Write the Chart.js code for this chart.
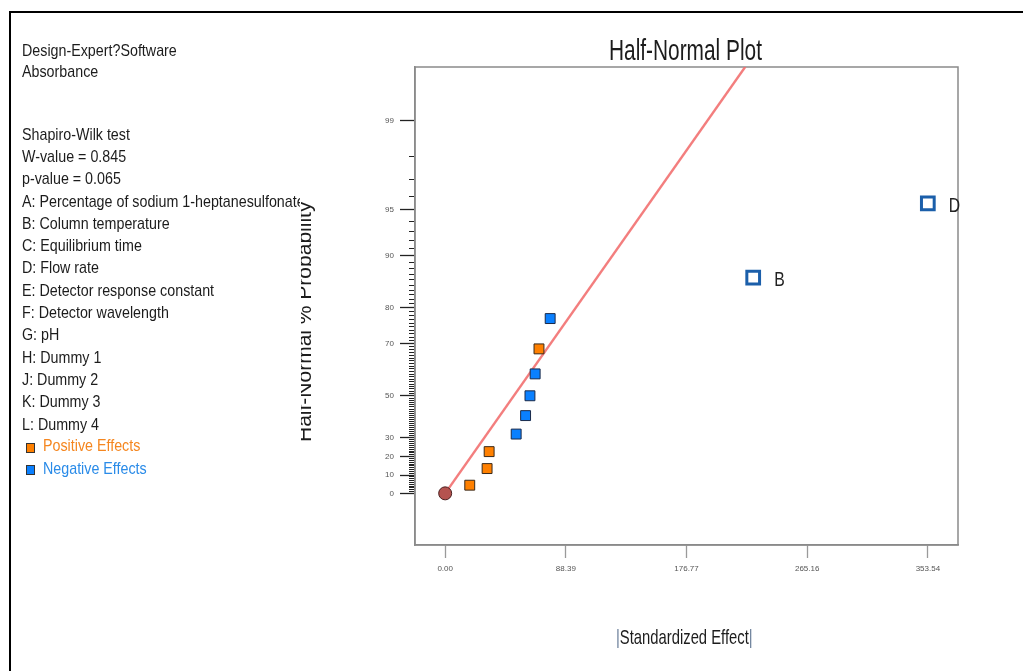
<!DOCTYPE html>
<html>
<head>
<meta charset="utf-8">
<script src="https://cdn.jsdelivr.net/npm/chart.js@4.4.1/dist/chart.umd.min.js"></script>
<style>
html,body{margin:0;padding:0;background:#fff;overflow:hidden;width:1023px;height:671px;}
#frame{position:absolute;left:9px;top:11px;width:1100px;height:700px;border-top:2px solid #000;border-left:2px solid #000;}
#chart{position:absolute;left:0;top:0;}
.txt{font-family:"Liberation Sans",Arial,sans-serif;color:#1c1c1c;white-space:nowrap;position:absolute;}
#leftClip{position:absolute;left:0;top:0;width:300px;height:671px;overflow:hidden;}
#info1{left:22px;top:39.6px;font-size:17px;line-height:21px;transform:scaleX(0.84);transform-origin:0 0;}
#info2{left:22px;top:123.7px;font-size:17px;line-height:22.3px;transform:scaleX(0.84);transform-origin:0 0;}
#legPos{left:42.7px;top:434.7px;font-size:17px;line-height:22.3px;transform:scaleX(0.84);transform-origin:0 0;color:#f5861f;}
#legNeg{left:42.7px;top:458px;font-size:17px;line-height:22.3px;transform:scaleX(0.84);transform-origin:0 0;color:#2a8be8;}
.sw{position:absolute;width:7px;height:8px;border:1px solid #333;}
#ytClip{position:absolute;left:301px;top:0;width:60px;height:671px;overflow:hidden;}
#ytitle{left:-8.3px;top:442px;font-size:21px;line-height:21px;transform:rotate(-90deg);transform-origin:0 0;}
#title{left:609px;top:34.6px;font-size:30px;line-height:30px;transform:scaleX(0.695);transform-origin:0 0;}
#xtitle{left:616px;top:626.2px;font-size:21px;line-height:21px;transform:scaleX(0.705);transform-origin:0 0;}
.bar{color:#6b7f9a;}
</style>
</head>
<body>
<canvas id="chart" width="1023" height="671"></canvas>
<div id="frame"></div>
<div id="leftClip">
  <div id="info1" class="txt">Design-Expert?Software<br>Absorbance</div>
  <div id="info2" class="txt">Shapiro-Wilk test<br>W-value = 0.845<br>p-value = 0.065<br>A: Percentage of sodium 1-heptanesulfonate<br>B: Column temperature<br>C: Equilibrium time<br>D: Flow rate<br>E: Detector response constant<br>F: Detector wavelength<br>G: pH<br>H: Dummy 1<br>J: Dummy 2<br>K: Dummy 3<br>L: Dummy 4</div>
  <div class="sw" style="left:26px;top:443px;background:#ff8000;"></div>
  <div id="legPos" class="txt">Positive Effects</div>
  <div class="sw" style="left:26px;top:465px;background:#0a80ff;"></div>
  <div id="legNeg" class="txt">Negative Effects</div>
</div>
<div id="ytClip"><div id="ytitle" class="txt">Half-Normal % Probability</div></div>
<div id="title" class="txt">Half-Normal Plot</div>
<div id="xtitle" class="txt"><span class="bar">|</span>Standardized Effect<span class="bar">|</span></div>
<script>
// ---- data ----
const positiveEffectX = [18.0, 30.7, 32.2, 68.7];
const positiveEffectP = [4.5, 13.6, 22.7, 68.2];
const negativeEffectX = [52.0, 58.9, 62.1, 65.9, 76.9];
const negativeEffectP = [31.8, 40.9, 50.0, 59.1, 77.3];
const namedEffectLabels = ['B', 'D'];
const namedEffectX = [225.6, 353.5];
const namedEffectP = [86.4, 95.5];
const originX = [0];
const originP = [0];
const fitLineX = [0, 219.8];
const fitLineP = [0, 99.68];
const xTickValues = [0, 88.39, 176.77, 265.16, 353.54];
const xTickLabels = ['0.00', '88.39', '176.77', '265.16', '353.54'];
const xRange = [-22.1, 375.6];
const yMajorTicks = [0, 10, 20, 30, 50, 70, 80, 90, 95, 99];
const yAllTicks = [];
for (let p = 0; p <= 99; p++) yAllTicks.push(p);
const yRangeZ = [-0.357, 2.947];

// half-normal probability scale transform (percent -> normal quantile)
function normInv(p){
  const a=[-3.969683028665376e+01,2.209460984245205e+02,-2.759285104469687e+02,1.383577518672690e+02,-3.066479806614716e+01,2.506628277459239e+00];
  const b=[-5.447609879822406e+01,1.615858368580409e+02,-1.556989798598866e+02,6.680131188771972e+01,-1.328068155288572e+01];
  const c=[-7.784894002430293e-03,-3.223964580411365e-01,-2.400758277161838e+00,-2.549732539343734e+00,4.374664141464968e+00,2.938163982698783e+00];
  const d=[7.784695709041462e-03,3.224671290700398e-01,2.445134137142996e+00,3.754408661907416e+00];
  const pl=0.02425, ph=1-pl; let q,r;
  if(p<pl){q=Math.sqrt(-2*Math.log(p));return (((((c[0]*q+c[1])*q+c[2])*q+c[3])*q+c[4])*q+c[5])/((((d[0]*q+d[1])*q+d[2])*q+d[3])*q+1);}
  if(p<=ph){q=p-0.5;r=q*q;return (((((a[0]*r+a[1])*r+a[2])*r+a[3])*r+a[4])*r+a[5])*q/(((((b[0]*r+b[1])*r+b[2])*r+b[3])*r+b[4])*r+1);}
  q=Math.sqrt(-2*Math.log(1-p));return -(((((c[0]*q+c[1])*q+c[2])*q+c[3])*q+c[4])*q+c[5])/((((d[0]*q+d[1])*q+d[2])*q+d[3])*q+1);
}
const hnZ = pct => pct <= 0 ? 0 : normInv(0.5 + pct / 200);
const pts = (xs, ps) => xs.map((x, i) => ({x: x, y: hnZ(ps[i])}));

const baseFont = '"Liberation Sans",Arial,sans-serif';

const framePlugin = {
  id: 'frame',
  beforeDatasetsDraw(chart) {
    const {ctx, chartArea: a} = chart;
    ctx.save();
    ctx.strokeStyle = '#8a8a8a';
    ctx.lineWidth = 1.5;
    ctx.strokeRect(a.left, a.top, a.right - a.left, a.bottom - a.top);
    ctx.restore();
  }
};
const labelPlugin = {
  id: 'pointLabels',
  afterDatasetsDraw(chart) {
    const ctx = chart.ctx;
    const meta = chart.getDatasetMeta(3);
    ctx.save();
    ctx.font = '21px ' + baseFont;
    ctx.fillStyle = '#222';
    ctx.textAlign = 'left';
    ctx.textBaseline = 'middle';
    meta.data.forEach((el, i) => {
      ctx.save();
      ctx.translate(el.x + 21, el.y + 3);
      ctx.scale(0.75, 1);
      ctx.fillText(namedEffectLabels[i], 0, 0);
      ctx.restore();
    });
    ctx.restore();
  }
};

new Chart(document.getElementById('chart'), {
  type: 'scatter',
  data: {
    datasets: [
      {label: 'origin', data: pts(originX, originP), pointStyle: 'circle', pointRadius: 6.5,
       backgroundColor: '#b5534f', borderColor: '#4a2020', borderWidth: 1},
      {label: 'Positive Effects', data: pts(positiveEffectX, positiveEffectP), pointStyle: 'rect', pointRadius: 7,
       backgroundColor: '#ff8000', borderColor: '#3a2a1a', borderWidth: 1},
      {label: 'Negative Effects', data: pts(negativeEffectX, negativeEffectP), pointStyle: 'rect', pointRadius: 7,
       backgroundColor: '#0a80ff', borderColor: '#1a2a4a', borderWidth: 1},
      {label: 'Significant', data: pts(namedEffectX, namedEffectP), pointStyle: 'rect', pointRadius: 9,
       backgroundColor: '#ffffff', borderColor: '#1b5faa', borderWidth: 3},
      {label: 'fit', data: pts(fitLineX, fitLineP), showLine: true, pointRadius: 0,
       borderColor: 'rgba(242,112,112,0.9)', borderWidth: 2.5, order: 10, clip: 0}
    ]
  },
  options: {
    responsive: false,
    devicePixelRatio: 1,
    animation: false,
    events: [],
    layout: {padding: {left: 355, right: 65, top: 67, bottom: 0}},
    plugins: {legend: {display: false}, tooltip: {enabled: false}, title: {display: false}},
    scales: {
      x: {
        type: 'linear', position: 'bottom', min: xRange[0], max: xRange[1],
        afterBuildTicks: s => { s.ticks = xTickValues.map(v => ({value: v})); },
        afterFit: s => { s.height = 126; },
        grid: {drawOnChartArea: false, tickLength: 13, tickColor: '#9a9a9a', tickWidth: 1.3},
        border: {display: true, color: '#8a8a8a', width: 1.5},
        ticks: {autoSkip: false, maxRotation: 0, padding: 6, color: '#555',
                font: {family: baseFont, size: 8},
                callback: (v, i) => xTickLabels[i]}
      },
      y: {
        type: 'linear', position: 'left', min: yRangeZ[0], max: yRangeZ[1],
        afterBuildTicks: s => { s.ticks = yAllTicks.map(p => ({value: hnZ(p)})); },
        afterFit: s => { s.width = 60; },
        grid: {drawOnChartArea: false, tickLength: 15, tickColor: '#222',
               tickWidth: c => yMajorTicks.includes(yAllTicks[c.index]) ? 1.3 : 1,
               tickBorderDash: c => yMajorTicks.includes(yAllTicks[c.index]) ? [] : [0, 9, 6]},
        border: {display: true, color: '#8a8a8a', width: 1.5},
        ticks: {autoSkip: false, padding: 6, color: '#555',
                font: {family: baseFont, size: 8},
                callback: (v, i) => yMajorTicks.includes(yAllTicks[i]) ? String(yAllTicks[i]) : ''}
      }
    }
  },
  plugins: [framePlugin, labelPlugin]
});
</script>
</body>
</html>
